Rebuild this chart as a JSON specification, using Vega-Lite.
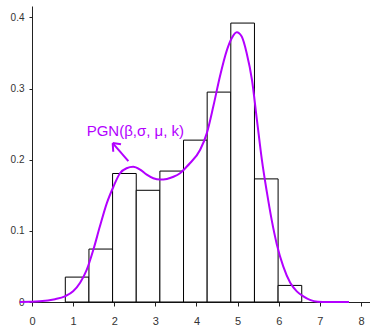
{
  "$schema": "https://vega.github.io/schema/vega-lite/v6.json",
  "width": 338,
  "height": 296,
  "autosize": {"type": "none"},
  "padding": {"left": 32, "top": 6, "right": 0, "bottom": 30},
  "background": "white",
  "config": {"view": {"stroke": null}},
  "datasets": {
    "bars": [
      {"x0": 0.81, "x1": 1.385, "h": 0.035},
      {"x0": 1.385, "x1": 1.96, "h": 0.0744},
      {"x0": 1.96, "x1": 2.535, "h": 0.1806},
      {"x0": 2.535, "x1": 3.11, "h": 0.157},
      {"x0": 3.11, "x1": 3.685, "h": 0.184},
      {"x0": 3.685, "x1": 4.26, "h": 0.2275},
      {"x0": 4.26, "x1": 4.835, "h": 0.295},
      {"x0": 4.835, "x1": 5.41, "h": 0.392},
      {"x0": 5.41, "x1": 5.985, "h": 0.173},
      {"x0": 5.985, "x1": 6.56, "h": 0.0233}
    ],
    "curve": [
      {"x": -0.3, "y": 0},
      {"x": 0.19, "y": 0.001},
      {"x": 0.56, "y": 0.004},
      {"x": 0.8, "y": 0.008},
      {"x": 1.0, "y": 0.015},
      {"x": 1.17, "y": 0.027},
      {"x": 1.33, "y": 0.045},
      {"x": 1.49, "y": 0.073},
      {"x": 1.65, "y": 0.106},
      {"x": 1.82, "y": 0.139},
      {"x": 1.98, "y": 0.162},
      {"x": 2.14, "y": 0.181},
      {"x": 2.3, "y": 0.188},
      {"x": 2.46, "y": 0.19},
      {"x": 2.63, "y": 0.186},
      {"x": 2.79, "y": 0.179},
      {"x": 2.95, "y": 0.174},
      {"x": 3.11, "y": 0.172},
      {"x": 3.28, "y": 0.173},
      {"x": 3.44, "y": 0.176},
      {"x": 3.6, "y": 0.181},
      {"x": 3.76, "y": 0.19},
      {"x": 3.84, "y": 0.195},
      {"x": 4.09, "y": 0.214},
      {"x": 4.25, "y": 0.237},
      {"x": 4.41, "y": 0.275},
      {"x": 4.57, "y": 0.317},
      {"x": 4.74, "y": 0.354},
      {"x": 4.86, "y": 0.371},
      {"x": 4.98, "y": 0.379},
      {"x": 5.1, "y": 0.373},
      {"x": 5.22, "y": 0.35},
      {"x": 5.35, "y": 0.312},
      {"x": 5.47, "y": 0.256},
      {"x": 5.59, "y": 0.2},
      {"x": 5.71, "y": 0.155},
      {"x": 5.83, "y": 0.115},
      {"x": 5.95, "y": 0.082},
      {"x": 6.11, "y": 0.05},
      {"x": 6.28, "y": 0.027},
      {"x": 6.44, "y": 0.015},
      {"x": 6.6, "y": 0.008},
      {"x": 6.76, "y": 0.003},
      {"x": 6.95, "y": 0.0005},
      {"x": 7.2, "y": 0},
      {"x": 7.71, "y": 0}
    ],
    "arrow": [
      {"xa": 2.343, "ya": 0.1979, "xb": 1.963, "yb": 0.2233},
      {"xa": 1.963, "ya": 0.2233, "xb": 2.165, "yb": 0.2216},
      {"xa": 1.963, "ya": 0.2233, "xb": 1.976, "yb": 0.2111}
    ],
    "label": [
      {"x": 1.33, "y": 0.2326, "t": "PGN(β,σ, μ, k)"}
    ]
  },
  "layer": [
    {
      "data": {"name": "bars"},
      "mark": {"type": "rect", "fill": "white", "stroke": "black", "strokeWidth": 1},
      "encoding": {
        "x": {
          "field": "x0", "type": "quantitative",
          "scale": {"domain": [0, 8.22], "nice": false, "zero": false},
          "axis": {
            "title": null, "values": [0, 1, 2, 3, 4, 5, 6, 7, 8], "grid": false,
            "domainColor": "#222", "tickColor": "#222", "tickSize": 4,
            "labelFont": "Liberation Sans", "labelFontSize": 11, "labelColor": "#333",
            "labelPadding": 9, "labelFlush": false
          }
        },
        "x2": {"field": "x1"},
        "y": {
          "field": "h", "type": "quantitative",
          "scale": {"domain": [0, 0.416], "nice": false},
          "axis": {
            "title": null, "values": [0, 0.1, 0.2, 0.3, 0.4], "grid": false, "format": ".1~f",
            "domainColor": "#222", "tickColor": "#222", "tickSize": 3,
            "labelFont": "Liberation Sans", "labelFontSize": 10, "labelColor": "#333",
            "labelPadding": 5, "labelFlush": false
          }
        },
        "y2": {"datum": 0}
      }
    },
    {
      "data": {"name": "curve"},
      "mark": {"type": "line", "color": "#b300ff", "strokeWidth": 2, "interpolate": "monotone"},
      "encoding": {
        "x": {"field": "x", "type": "quantitative"},
        "y": {"field": "y", "type": "quantitative"}
      }
    },
    {
      "data": {"name": "arrow"},
      "mark": {"type": "rule", "color": "#b300ff", "strokeWidth": 2},
      "encoding": {
        "x": {"field": "xa", "type": "quantitative"},
        "y": {"field": "ya", "type": "quantitative"},
        "x2": {"field": "xb"},
        "y2": {"field": "yb"}
      }
    },
    {
      "data": {"name": "label"},
      "mark": {"type": "text", "color": "#b300ff", "font": "Liberation Sans", "fontSize": 15, "align": "left", "baseline": "alphabetic"},
      "encoding": {
        "x": {"field": "x", "type": "quantitative"},
        "y": {"field": "y", "type": "quantitative"},
        "text": {"field": "t"}
      }
    }
  ]
}
